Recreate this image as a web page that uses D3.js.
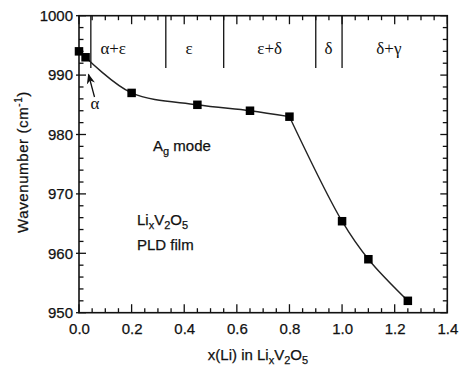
<!DOCTYPE html>
<html><head><meta charset="utf-8">
<script src="https://cdn.jsdelivr.net/npm/d3@7"></script>
<style>body{margin:0;background:#fff}svg{display:block}text{font-family:"Liberation Sans",Arial,sans-serif;fill:#111}</style>
</head><body><svg id="c" width="466" height="375"></svg>
<script>
const xLi = [0.0, 0.025, 0.2, 0.45, 0.65, 0.8, 1.0, 1.1, 1.25];
const wavenumber = [994.0, 993.0, 987.0, 985.0, 984.0, 983.0, 965.4, 959.0, 952.0];
const xTickLabels = ["0.0","0.2","0.4","0.6","0.8","1.0","1.2","1.4"];
const yTickLabels = ["950","960","970","980","990","1000"];
const phaseBounds = [0.045, 0.33, 0.55, 0.9, 1.0];
const phaseLabels = ["α+ε","ε","ε+δ","δ","δ+γ"];
const phaseLabelX = [0.13, 0.418, 0.725, 0.948, 1.178];

const svg = d3.select("#c");
const L=79, R=447.3, T=15.7, B=312.7;
const x = d3.scaleLinear().domain([0,1.4]).range([L,R]);
const y = d3.scaleLinear().domain([950,1000]).range([B,T]);

const xMinor = d3.range(0,1.4001,0.05), yMinor = d3.range(950,1000.01,2);
const xMajor = xTickLabels.map(Number), yMajor = yTickLabels.map(Number);
const isMaj = (v, arr) => arr.some(a => Math.abs(a-v) < 1e-6);
const g = svg.append("g").attr("stroke","#111").attr("stroke-width",1.3);
xMinor.forEach(v=>{ const len = isMaj(v,xMajor)?8.5:4.5; const px=x(v);
  g.append("line").attr("x1",px).attr("x2",px).attr("y1",B).attr("y2",B-len);
  g.append("line").attr("x1",px).attr("x2",px).attr("y1",T).attr("y2",T+len);});
yMinor.forEach(v=>{ const maj=isMaj(v,yMajor); const len = maj?7:4.5; const py=y(v);
  g.append("line").attr("x1",L-(maj?3:0)).attr("x2",L+len).attr("y1",py).attr("y2",py);
  g.append("line").attr("x1",R).attr("x2",R-len).attr("y1",py).attr("y2",py);});
svg.append("rect").attr("x",L).attr("y",T).attr("width",R-L).attr("height",B-T)
  .attr("fill","none").attr("stroke","#111").attr("stroke-width",1.6);

const ax = svg.append("g").attr("transform",`translate(0,${B})`)
  .call(d3.axisBottom(x).tickValues(xMajor).tickFormat((d,i)=>xTickLabels[i]).tickSize(0).tickPadding(11));
const ay = svg.append("g").attr("transform",`translate(${L},0)`)
  .call(d3.axisLeft(y).tickValues(yMajor).tickFormat((d,i)=>yTickLabels[i]).tickSize(0).tickPadding(6));
[ax,ay].forEach(a=>{a.select(".domain").remove(); a.selectAll("text").attr("font-size",15)
  .attr("font-family","Liberation Sans, Arial, sans-serif").attr("fill","#111")
  .attr("stroke","#111").attr("stroke-width",0.25);});

phaseBounds.forEach(v=>{
  svg.append("line").attr("x1",x(v)).attr("x2",x(v)).attr("y1",T).attr("y2",y(991.2))
    .attr("stroke","#111").attr("stroke-width",1.3);
});
phaseLabels.forEach((t,i)=>{
  svg.append("text").attr("x",x(phaseLabelX[i])).attr("y",54).attr("text-anchor","middle")
    .attr("font-size",17).style("font-family","'Liberation Serif','DejaVu Serif',serif").text(t);
});

// curve: smooth through the first part, then a second smooth branch starting at x=0.8
const pts = xLi.map((v,i)=>[v,wavenumber[i]]);
const lineGen = d3.line().x(d=>x(d[0])).y(d=>y(d[1])).curve(d3.curveCatmullRom.alpha(0.5));
const k = xLi.indexOf(0.8);
[pts.slice(1,k+1), pts.slice(k)].forEach(seg=>{
  svg.append("path").datum(seg).attr("d", lineGen)
    .attr("fill","none").attr("stroke","#222").attr("stroke-width",1.4);
});
const s=8.5;
svg.selectAll("rect.m").data(pts).enter().append("rect").attr("class","m")
  .attr("x",d=>x(d[0])-s/2).attr("y",d=>y(d[1])-s/2).attr("width",s).attr("height",s).attr("fill","#000");

svg.append("defs").append("marker").attr("id","ah").attr("viewBox","0 0 10 10").attr("refX",9).attr("refY",5)
  .attr("markerWidth",8).attr("markerHeight",8).attr("orient","auto")
  .append("path").attr("d","M0,1 L10,5 L0,9 L3,5 z").attr("fill","#111");
svg.append("line").attr("x1",94.5).attr("y1",97).attr("x2",88.5).attr("y2",74.5)
  .attr("stroke","#111").attr("stroke-width",1.3).attr("marker-end","url(#ah)");
svg.append("text").attr("x",95).attr("y",109).attr("text-anchor","middle").attr("font-size",17)
  .style("font-family","'Liberation Serif','DejaVu Serif',serif").text("α");

const T15 = sel => sel.attr("font-size",15).attr("stroke","#111").attr("stroke-width",0.25);
const ag = T15(svg.append("text").attr("x",153).attr("y",150.5));
ag.append("tspan").text("A");
ag.append("tspan").attr("font-size",11).attr("dy",4).text("g");
ag.append("tspan").attr("dy",-4).text(" mode");

function formula(sel){
  sel.append("tspan").text("Li");
  sel.append("tspan").attr("font-size",11).attr("dy",4).text("x");
  sel.append("tspan").attr("dy",-4).text("V");
  sel.append("tspan").attr("font-size",11).attr("dy",4).text("2");
  sel.append("tspan").attr("dy",-4).text("O");
  sel.append("tspan").attr("font-size",11).attr("dy",4).text("5");
}
formula(T15(svg.append("text").attr("x",137).attr("y",224.5)));
T15(svg.append("text").attr("x",137).attr("y",250)).text("PLD film");

const xt = T15(svg.append("text").attr("x",258).attr("y",360).attr("text-anchor","middle"));
xt.append("tspan").text("x(Li) in ");
formula(xt);

const yt = T15(svg.append("text").attr("transform","translate(28,162) rotate(-90)").attr("text-anchor","middle"))
  .attr("letter-spacing",0.6);
yt.append("tspan").text("Wavenumber (cm");
yt.append("tspan").attr("font-size",10).attr("dy",-6).text("-1");
yt.append("tspan").attr("dy",6).text(")");
</script></body></html>
